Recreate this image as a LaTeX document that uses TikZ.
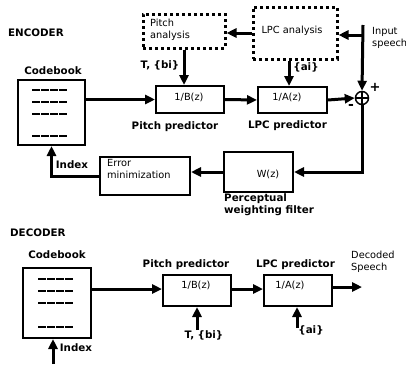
\documentclass[tikz,border=0pt]{standalone}
\usepackage{fontspec}
\setmainfont{DejaVu Sans}
\usetikzlibrary{arrows.meta,calc}
\begin{document}
\begin{tikzpicture}[x=1pt,y=-1pt,
  blk/.style={draw,line width=2pt,inner sep=0pt},
  dotbox/.style={draw,line width=3pt,dash pattern=on 3pt off 3pt,inner sep=0pt},
  arr/.style={line width=3pt,-{Triangle[length=10pt,width=9pt]}},
  bl/.style={font=\fontsize{10.3}{12.5}\selectfont\bfseries,inner sep=0pt},
  rl/.style={font=\fontsize{9.8}{12}\selectfont,inner sep=0pt,align=left},
  cbline/.style={line width=1.1pt,dash pattern=on 7.5pt off 1.5pt}]
\useasboundingbox[fill=white] (0,0) rectangle (406,364);

% ---------------- ENCODER ----------------
\node[bl,anchor=west] (enc) at (8,33) {ENCODER};
\node[dotbox,minimum width=82pt,minimum height=34pt] (pa) at (184,31) {};
\node[rl,anchor=north west] (patxt) at (150,19) {Pitch\\analysis};
\node[dotbox,minimum width=84pt,minimum height=52pt] (lpa) at (295,33) {};
\node[rl] (lpatxt) at (292,31) {LPC analysis};
\node[blk,minimum width=68pt,minimum height=27pt] (pp) at (190,99.5) {};
\node[rl] (pptxt) at (189,97) {1/B(z)};
\node[blk,minimum width=69pt,minimum height=26pt] (lp) at (292.5,100) {};
\node[rl] (lptxt) at (287,97) {1/A(z)};
\node[draw,circle,line width=1.5pt,minimum size=13pt,inner sep=0pt] (sum) at (362,98) {};
\draw[line width=1.1pt] (sum.north) -- (sum.south) (sum.west) -- (sum.east);
\node[blk,minimum width=69pt,minimum height=40pt] (wz) at (258.5,172) {};
\node[rl] (wztxt) at (268,174) {W(z)};
\node[blk,minimum width=90pt,minimum height=38pt] (em) at (145,176) {};
\node[rl,anchor=north west] (emtxt) at (107,159) {Error\\minimization};
\node[blk,minimum width=67pt,minimum height=65pt] (cb) at (51.5,112.5) {};
\foreach \yy in {90,102,114,136} \draw[cbline] (32,\yy) -- (67,\yy);

\node[bl] (cbl) at (53,71) {Codebook};
\node[bl] (tbi) at (160,65) {T, \{bi\}};
\node[bl] (ai) at (306,67) {\{ai\}};
\node[bl] (ppl) at (175,127) {Pitch predictor};
\node[bl] (lpl) at (287.5,126) {LPC predictor};
\node[rl,anchor=north west] (ins) at (372,27) {Input\\speech};
\node[font=\fontsize{13}{13}\selectfont\bfseries,inner sep=0pt] (plus) at (375,87) {+};
\node[font=\fontsize{14}{14}\selectfont\bfseries,inner sep=0pt] (minus) at (351,107) {-};
\node[bl] (idx) at (72,165) {Index};
\node[bl,anchor=north west,align=left] (pwf) at (224,193) {Perceptual\\weighting filter};

\coordinate (in0) at (363,25);
\coordinate (br) at (363,35);
\coordinate (aix) at (289,0);
\draw[arr] (in0) -- (sum.north);
\draw[arr] (br) -- (br -| lpa.east);
\draw[arr] (lpa.west) -- (lpa.west -| pa.east);
\draw[arr] (pa.south) -- (pa.south |- pp.north);
\draw[arr] (aix |- lpa.south) -- (aix |- lp.north);
\draw[arr] (cb.east |- pp.west) -- (pp.west);
\draw[arr] (pp.east) -- (lp.west);
\draw[arr] (lp.east) -- (sum.west);
\draw[arr] (sum.south) |- (wz.east);
\draw[arr] (wz.west) -- (wz.west -| em.east);
\draw[arr] (em.west) -| (cb.south);

% ---------------- DECODER ----------------
\node[bl,anchor=west] (dec) at (10,233) {DECODER};
\node[bl] (cbl2) at (57,255) {Codebook};
\node[blk,minimum width=68pt,minimum height=70pt] (cb2) at (57,303) {};
\foreach \yy in {279,291,303,327} \draw[cbline] (38,\yy) -- (73,\yy);
\node[blk,minimum width=68pt,minimum height=31pt] (pp2) at (197,290.5) {};
\node[rl] (pp2txt) at (196,285) {1/B(z)};
\node[blk,minimum width=68pt,minimum height=31pt] (lp2) at (298,290.5) {};
\node[rl] (lp2txt) at (290,285) {1/A(z)};
\node[bl] (ppl2) at (186,265) {Pitch predictor};
\node[bl] (lpl2) at (295.5,265) {LPC predictor};
\node[rl,anchor=north west] (ds) at (351,251) {Decoded\\Speech};
\node[bl] (tbi2) at (204,335) {T, \{bi\}};
\node[bl] (ai2) at (311,330) {\{ai\}};
\node[bl] (idx2) at (76,348) {Index};

\coordinate (out) at (362,287);
\coordinate (idxin) at (53,364);
\coordinate (tin) at (197,330);
\coordinate (ain) at (297,328);
\draw[arr] (cb2.east |- 0,289) -- (pp2.west |- 0,289);
\draw[arr] (pp2.east |- 0,289) -- (lp2.west |- 0,289);
\draw[arr] (lp2.east |- out) -- (out);
\draw[arr] (idxin) -- (idxin |- cb2.south);
\draw[arr] (tin) -- (tin |- pp2.south);
\draw[arr] (ain) -- (ain |- lp2.south);
\end{tikzpicture}
\end{document}
